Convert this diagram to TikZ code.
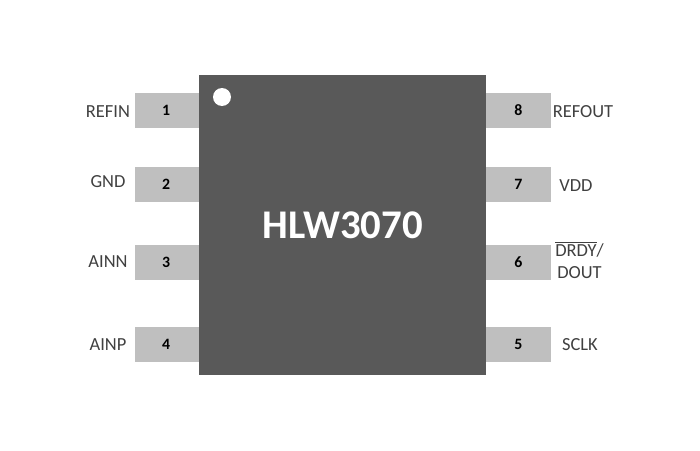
\documentclass[tikz,border=0pt]{standalone}
\usepackage{fontspec}
\usepackage{xcolor}
\setmainfont{Carlito}
\definecolor{chipgray}{HTML}{595959}
\definecolor{pingray}{HTML}{BFBFBF}
\definecolor{labelgray}{HTML}{404040}
\tikzset{
  pinbox/.style={rectangle,fill=pingray,minimum width=1.3cm,minimum height=0.7cm,inner sep=0pt,text=black,font=\fontsize{9}{10}\selectfont\bfseries},
  pinname/.style={inner sep=0pt,text=labelgray,font=\fontsize{10.5}{12.5}\selectfont,align=center}
}
\begin{document}
\begin{tikzpicture}[x=0.02cm,y=-0.02cm]
\useasboundingbox (0,0) rectangle (700,450);
\node (p1) at (167,110.5) [pinbox] {\makebox[0pt]{\hspace{-1pt}1}};
\node (p2) at (167,184.5) [pinbox] {\makebox[0pt]{\hspace{-1pt}2}};
\node (p3) at (167,262.5) [pinbox] {\makebox[0pt]{\hspace{-1pt}3}};
\node (p4) at (167,344.5) [pinbox] {\makebox[0pt]{\hspace{-1pt}4}};
\node (p8) at (518.5,110.5) [pinbox] {8};
\node (p7) at (518.5,184.5) [pinbox] {7};
\node (p6) at (518.5,262.5) [pinbox] {6};
\node (p5) at (518.5,344.5) [pinbox] {5};
\node (chip) at (342.5,225) [rectangle,fill=chipgray,minimum width=5.74cm,minimum height=6cm,inner sep=0pt,text=white,font=\fontsize{23.2}{25}\selectfont\bfseries] {HLW3070};
\node (dot) at (222,97) [circle,fill=white,minimum size=0.36cm,inner sep=0pt] {};
\node (refin) at (108,112) [pinname] {REFIN};
\node (gnd) at (108,182) [pinname] {GND};
\node (ainn) at (108,262) [pinname] {AINN};
\node (ainp) at (108,345) [pinname] {AINP};
\node (refout) at (583,112) [pinname] {REFOUT};
\node (vdd) at (576,186) [pinname] {VDD};
\node (drdy) at (579.5,260) [pinname] {$\overline{\mbox{DRDY}}$/\\DOUT};
\node (sclk) at (580,345) [pinname] {SCLK};
\end{tikzpicture}
\end{document}
